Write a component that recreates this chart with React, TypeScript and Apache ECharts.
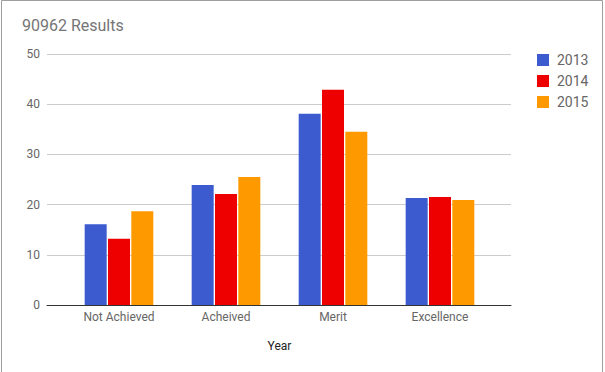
import React, { useEffect, useRef } from "react";
import * as echarts from "echarts";

const categories = ["Not Achieved", "Acheived", "Merit", "Excellence"];
const seriesNames = ["2013", "2014", "2015"];
const values2013 = [16.1, 23.9, 38.1, 21.3];
const values2014 = [13.2, 22.1, 42.9, 21.5];
const values2015 = [18.7, 25.5, 34.5, 20.9];
const colors = ["#3b5bcf", "#ee0000", "#ff9900"];
const yTicks = { min: 0, max: 50, interval: 10 };

export default function App() {
  const ref = useRef<HTMLDivElement>(null);
  useEffect(() => {
    document.body.style.margin = "0";
    if (!ref.current) return;
    const chart = echarts.init(ref.current, undefined, { renderer: "svg" });
    const font = "Roboto, Arial, sans-serif";
    const allValues = [values2013, values2014, values2015];
    chart.setOption({
      animation: false,
      textStyle: { fontFamily: font },
      title: {
        text: "90962 Results",
        left: 22,
        top: 17,
        padding: 0,
        textStyle: { fontFamily: font, fontSize: 16, fontWeight: "normal", color: "#757575" },
      },
      legend: {
        orient: "vertical",
        left: 532,
        top: 48,
        itemWidth: 12,
        itemHeight: 12,
        itemGap: 7,
        icon: "rect",
        data: seriesNames,
        textStyle: { fontFamily: font, fontSize: 14, color: "#666", padding: [0, 0, 0, 3] },
      },
      grid: [
        { left: 47, right: 94, top: 54, bottom: 67 },
        { left: 65.5, right: 111.5, top: 54, bottom: 67 },
      ],
      xAxis: [
        {
          gridIndex: 0,
          type: "value",
          min: 0,
          max: 1,
          z: 5,
          axisLine: { show: true, lineStyle: { color: "#333", width: 1 } },
          axisTick: { show: false },
          axisLabel: { show: false },
          splitLine: { show: false },
        },
        {
          gridIndex: 1,
          type: "category",
          data: categories,
          axisLine: { show: false },
          axisTick: { show: false },
          axisLabel: { color: "#666", fontSize: 12, fontFamily: font, margin: 6 },
          name: "Year",
          nameLocation: "middle",
          nameGap: 35,
          nameTextStyle: { color: "#222", fontSize: 12, fontFamily: font },
        },
      ],
      yAxis: [
        {
          gridIndex: 0,
          type: "value",
          min: yTicks.min,
          max: yTicks.max,
          interval: yTicks.interval,
          axisLine: { show: false },
          axisTick: { show: false },
          axisLabel: { color: "#666", fontSize: 12, fontFamily: font, margin: 7 },
          splitLine: { lineStyle: { color: "#ccc", width: 1 } },
        },
        {
          gridIndex: 1,
          type: "value",
          min: yTicks.min,
          max: yTicks.max,
          interval: yTicks.interval,
          show: false,
        },
      ],
      graphic: [
        {
          type: "rect",
          shape: { x: 1.5, y: 0.5, width: 601, height: 400 },
          style: { fill: "none", stroke: "#9e9e9e", lineWidth: 1 },
          silent: true,
        },
      ],
      series: seriesNames.map((name, i) => ({
        name,
        type: "bar",
        xAxisIndex: 1,
        yAxisIndex: 1,
        data: allValues[i],
        barWidth: 22,
        barGap: "6%",
        itemStyle: { color: colors[i] },
      })),
    });
    return () => chart.dispose();
  }, []);
  return <div ref={ref} style={{ width: 605, height: 372 }} />;
}
